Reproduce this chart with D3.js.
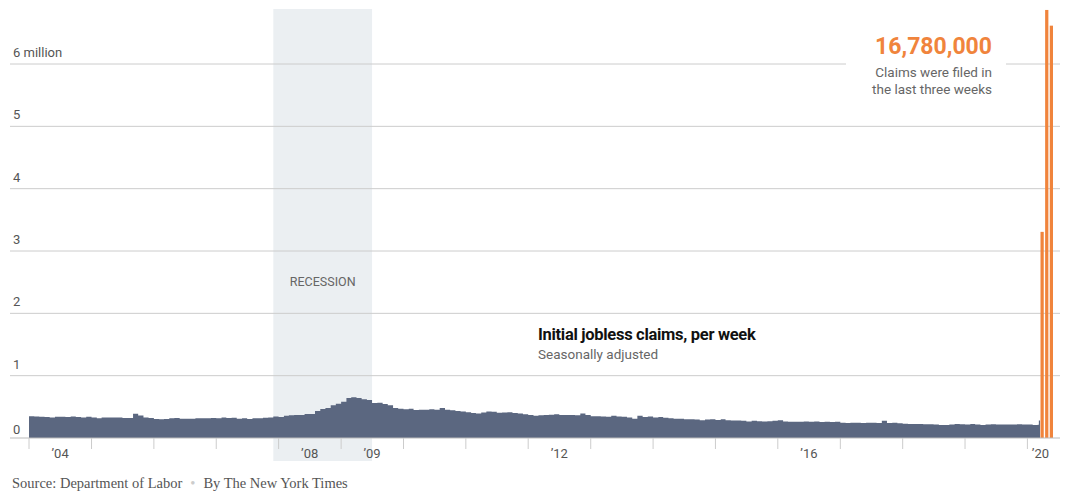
<!DOCTYPE html>
<html>
<head>
<meta charset="utf-8">
<script src="https://cdn.jsdelivr.net/npm/d3@7"></script>
<style>
  body { margin: 0; background: #fff; }
  svg text { font-family: Roboto, "Noto Sans", sans-serif; }
</style>
</head>
<body>
<svg id="chart" width="1071" height="496"></svg>
<script>
// monthly average initial claims, thousands, Jan 2004 .. Feb 2020
const monthlyClaims = [
  350,345,340,335,330,340,340,335,345,335,330,340,
  330,315,330,330,330,330,320,320,390,360,330,320,
  305,300,305,315,320,310,310,310,315,315,315,320,
  315,330,320,325,310,315,305,315,315,325,330,345,
  335,355,365,370,370,385,385,435,465,480,525,550,
  580,640,655,640,620,610,560,565,545,525,480,470,
  460,470,450,455,455,460,455,480,455,445,435,425,
  415,400,395,410,425,420,405,410,415,400,395,380,
  370,355,365,370,375,380,370,370,370,365,395,370,
  350,350,345,340,355,345,340,330,310,355,335,345,
  330,335,325,315,310,310,300,300,295,285,295,300,
  290,300,285,280,280,275,265,275,270,265,270,275,
  285,265,260,260,260,265,260,265,255,260,255,260,
  245,240,245,245,240,245,245,240,275,240,245,235,
  230,225,225,225,220,220,215,210,210,215,225,220,
  215,225,215,210,215,220,215,215,215,215,220,215,
  215,210
];
const earlyMarchWeeks = ["2020-03-01", "2020-03-08"];
const earlyMarchClaims = [211, 282];
const spikeWeeks = ["2020-03-15", "2020-03-22", "2020-03-29"];
const spikeClaims = [3307, 6867, 6615];
const totalLabel = "16,780,000";
const yTicks = [0, 1, 2, 3, 4, 5, 6];
const tickYears = d3.range(2004, 2021);
const labelYears = [2004, 2008, 2009, 2012, 2016, 2020];
const recession = ["2007-12-01", "2009-07-01"];

const parse = d3.timeParse("%Y-%m-%d");
const svg = d3.select("#chart");

const x = d3.scaleTime()
  .domain([new Date(2004, 0, 1), new Date(2020, 0, 1)])
  .range([29, 1027.4]);
const y = d3.scaleLinear().domain([0, 6]).range([438, 64]);

const series = monthlyClaims.map((v, i) => ({ date: new Date(2004, i, 1), value: v / 1000 }));
earlyMarchWeeks.forEach((d, i) => series.push({ date: parse(d), value: earlyMarchClaims[i] / 1000 }));
series.push({ date: parse(spikeWeeks[0]), value: earlyMarchClaims[1] / 1000 });

// recession band
svg.append("rect")
  .attr("x", x(parse(recession[0])))
  .attr("width", x(parse(recession[1])) - x(parse(recession[0])))
  .attr("y", 9).attr("height", 452)
  .attr("fill", "#e8ecf0").attr("opacity", 0.85);
svg.append("text")
  .attr("x", (x(parse(recession[0])) + x(parse(recession[1]))) / 2).attr("y", 286)
  .attr("text-anchor", "middle").attr("font-size", 12.5).attr("fill", "#666")
  .text("RECESSION");

// gridlines
yTicks.filter((t) => t > 0).forEach((t) => {
  if (t === 6) {
    svg.append("line").attr("x1", 10).attr("x2", 846).attr("y1", y(t)).attr("y2", y(t)).attr("stroke", "#ccc");
    svg.append("line").attr("x1", 1006).attr("x2", 1060).attr("y1", y(t)).attr("y2", y(t)).attr("stroke", "#ccc");
  } else {
    svg.append("line").attr("x1", 10).attr("x2", 1060).attr("y1", y(t)).attr("y2", y(t)).attr("stroke", "#ccc");
  }
  svg.append("text").attr("x", 13).attr("y", y(t) - 7)
    .attr("font-size", 13).attr("fill", "#555")
    .text(t === 6 ? "6 million" : t);
});
svg.append("text").attr("x", 13).attr("y", y(0) - 4).attr("font-size", 13).attr("fill", "#555").text("0");

// area
const area = d3.area()
  .curve(d3.curveStepAfter)
  .x((d) => x(d.date))
  .y0(y(0))
  .y1((d) => y(d.value));
svg.append("path").datum(series).attr("d", area).attr("fill", "#5b6780");

// spike bars
const band = d3.scaleBand().domain(spikeWeeks).range([1040.5, 1053]).paddingInner(0.3);
svg.selectAll("rect.spike").data(spikeWeeks).enter().append("rect")
  .attr("class", "spike")
  .attr("x", (d) => band(d))
  .attr("width", band.bandwidth())
  .attr("y", (d, i) => y(spikeClaims[i] / 1000))
  .attr("height", (d, i) => y(0) - y(spikeClaims[i] / 1000))
  .attr("fill", "#f0843c");

// x axis
svg.append("line").attr("x1", 10).attr("x2", 1060).attr("y1", y(0)).attr("y2", y(0)).attr("stroke", "#bbb");
tickYears.forEach((yr) => {
  const px = x(new Date(yr, 0, 1));
  svg.append("line").attr("x1", px).attr("x2", px).attr("y1", y(0)).attr("y2", y(0) + 11).attr("stroke", "#ccc");
});
labelYears.forEach((yr) => {
  const px = yr === 2020 ? x(new Date(yr, 0, 1)) + 13 : x(new Date(yr, 6, 1));
  svg.append("text").attr("x", px).attr("y", 458)
    .attr("text-anchor", "middle").attr("font-size", 13).attr("fill", "#555")
    .text("\u2019" + String(yr).slice(2));
});

// labels
svg.append("text").attr("x", 538).attr("y", 340).attr("font-size", 16.5).attr("font-weight", "bold")
  .attr("fill", "#111").attr("letter-spacing", -0.3).text("Initial jobless claims, per week");
svg.append("text").attr("x", 538).attr("y", 359).attr("font-size", 13.5).attr("fill", "#666")
  .text("Seasonally adjusted");

svg.append("text").attr("x", 992).attr("y", 54).attr("text-anchor", "end")
  .attr("font-size", 23).attr("font-weight", "bold").attr("fill", "#f0843c")
  .text(totalLabel);
svg.append("text").attr("x", 992).attr("y", 77).attr("text-anchor", "end")
  .attr("font-size", 13.5).attr("fill", "#666").text("Claims were filed in");
svg.append("text").attr("x", 992).attr("y", 94).attr("text-anchor", "end")
  .attr("font-size", 13.5).attr("fill", "#666").text("the last three weeks");

// footer
const foot = svg.append("text").attr("x", 12).attr("y", 488)
  .attr("font-size", 14.5).attr("fill", "#555")
  .style("font-family", "'Liberation Serif', serif");
foot.append("tspan").text("Source: Department of Labor");
foot.append("tspan").attr("dx", 8).attr("fill", "#ccc").text("\u2022");
foot.append("tspan").attr("dx", 8).text("By The New York Times");
</script>
</body>
</html>
